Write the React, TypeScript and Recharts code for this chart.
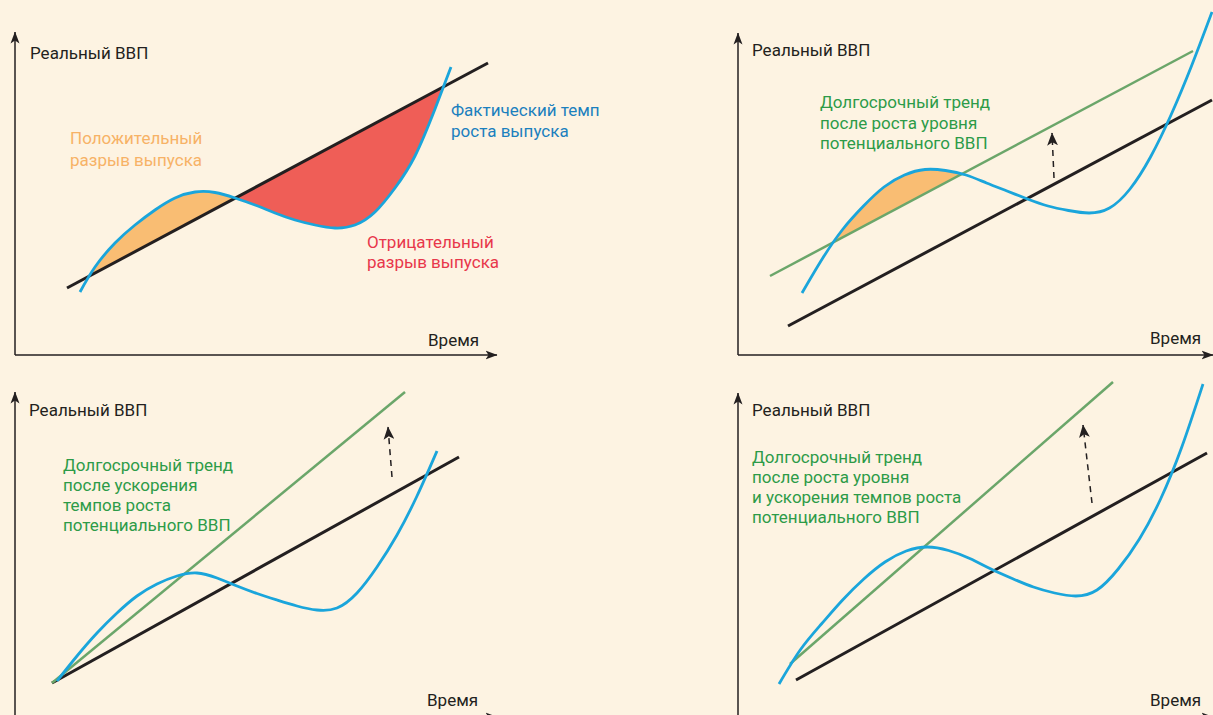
import React from 'react';
import { ComposedChart, Line, Area, XAxis, YAxis } from 'recharts';

// ---------- Colours ----------
const INK = '#231F20';
const BLUE = '#1AA5DB';
const GREEN = '#6BA66A';
const ORANGE = '#F9BD73';
const RED = '#EF5E57';
const ORANGE_TXT = '#F7B266';
const BLUE_TXT = '#1B80BE';
const RED_TXT = '#E8374B';
const GREEN_TXT = '#2D9B48';
const BG = '#FDF3E2';
const FONT = 'Roboto, "Noto Sans", sans-serif';
const CURVE = 'natural';

// ---------- Panel 1: output gap ----------
const p1TrendT = [52, 473];
const p1TrendV = [67, 292];
const p1ActualT = [65, 80, 100, 120, 140, 160, 180, 200, 220, 240, 260, 280, 300, 320, 340, 360, 380, 400, 420, 436];
const p1ActualV = [63, 88, 112, 130, 145, 157, 163, 162.5, 157, 150, 142, 135, 130, 127, 130, 143, 167, 199, 246, 288];
const p1PositiveGap = [75, 220];
const p1NegativeGap = [220, 428];
const p1AxisX = [0, 482];
const p1AxisY = [0, 323];

// ---------- Panel 2: level shift ----------
const p2OldTrendT = [50, 474];
const p2OldTrendV = [29, 255];
const p2NewTrendT = [32, 455];
const p2NewTrendV = [79, 304];
const p2ActualT = [64, 84.5, 105, 125.5, 146, 166.5, 187, 207.5, 228, 248.5, 269, 289.5, 310, 330.5, 351, 371.5, 392, 412.5, 433, 453.5, 474];
const p2ActualV = [62, 96.5, 126, 149, 168, 180, 185.5, 184.5, 180, 172, 164, 156, 149, 144.5, 142, 147, 166, 198, 240, 289, 343];
const p2PositiveGap = [95, 222];
const p2ShiftT = [316, 314];
const p2ShiftV = [177, 222];
const p2AxisX = [0, 475];
const p2AxisY = [0, 322];

// ---------- Panel 3: faster growth ----------
const p3OldTrendT = [37, 444];
const p3OldTrendV = [34, 260];
const p3NewTrendT = [37, 390];
const p3NewTrendV = [34, 325];
const p3ActualT = [42, 62, 82, 102, 122, 142, 162, 182, 202, 222, 242, 262, 282, 302, 322, 342, 362, 382, 402, 422];
const p3ActualV = [36, 61, 84, 104, 121, 133, 141, 144, 139, 131, 123.5, 117, 111, 107, 109, 124, 150, 182, 221, 266];
const p3ShiftT = [377, 373];
const p3ShiftV = [240, 290];
const p3AxisX = [0, 482];
const p3AxisY = [0, 325];

// ---------- Panel 4: level shift + faster growth ----------
const p4OldTrendT = [58, 469];
const p4OldTrendV = [37, 264];
const p4NewTrendT = [52, 375];
const p4NewTrendV = [53, 335];
const p4ActualT = [41, 62.2, 83.4, 104.6, 125.8, 147, 168.2, 189.4, 210.6, 231.8, 253, 274.2, 295.4, 316.6, 337.8, 359, 380.2, 401.4, 422.6, 443.8, 465];
const p4ActualV = [33, 67, 93, 117, 138, 155, 166, 170, 166.5, 158.5, 148, 138.5, 130, 124, 121, 127, 148, 178, 218, 270, 333];
const p4ShiftT = [354, 345];
const p4ShiftV = [214, 292];
const p4AxisX = [0, 475];
const p4AxisY = [0, 324];

// ---------- helpers to build the tables recharts needs ----------
type Row = { t: number; v: number };
const rows = (ts: number[], vs: number[]): Row[] => ts.map((t, i) => ({ t, v: vs[i] }));
const axisXRows = (a: number[]): Row[] => [{ t: a[0], v: 0 }, { t: a[1], v: 0 }];
const axisYRows = (a: number[]): Row[] => [{ t: 0, v: a[0] }, { t: 0, v: a[1] }];
const trendAt = (tt: number[], tv: number[], t: number) =>
  tv[0] + ((tv[1] - tv[0]) * (t - tt[0])) / (tt[1] - tt[0]);
const gapRows = (at: number[], av: number[], tt: number[], tv: number[]) =>
  at.map((t, i) => ({ t, gap: [trendAt(tt, tv, t), av[i]] as [number, number] }));

type Span = { from: number; to: number; color: string };
type Txt = { x: number; y: number; s: string; c: string };
type Box = { left: number; top: number; width: number; height: number; ox: number; oy: number };

const Panel: React.FC<{
  id: string;
  box: Box;
  gap?: { data: any[]; spans: Span[] };
  trends: { data: Row[]; color: string; width: number }[];
  actual: Row[];
  shift?: Row[];
  axisX: Row[];
  axisY: Row[];
  texts: Txt[];
}> = ({ id, box, gap, trends, actual, shift, axisX, axisY, texts }) => {
  const xDom: [number, number] = [box.left - box.ox, box.left + box.width - box.ox];
  const yDom: [number, number] = [box.oy - (box.top + box.height), box.oy - box.top];
  let stops: { off: number; color: string; op: number }[] = [];
  if (gap) {
    const t0 = gap.data[0].t;
    const t1 = gap.data[gap.data.length - 1].t;
    const f = (t: number) => Math.max(0, Math.min(1, (t - t0) / (t1 - t0)));
    stops.push({ off: 0, color: '#ffffff', op: 0 });
    gap.spans.forEach((s) => {
      stops.push({ off: f(s.from), color: s.color, op: 0 });
      stops.push({ off: f(s.from), color: s.color, op: 1 });
      stops.push({ off: f(s.to), color: s.color, op: 1 });
      stops.push({ off: f(s.to), color: s.color, op: 0 });
    });
    stops.push({ off: 1, color: '#ffffff', op: 0 });
  }
  return (
    <div style={{ position: 'absolute', left: box.left, top: box.top, width: box.width, height: box.height }}>
      <ComposedChart width={box.width} height={box.height} margin={{ top: 0, right: 0, bottom: 0, left: 0 }}>
        <defs>
          <marker id={`ax-${id}`} viewBox="0 0 12 10" refX="11.5" refY="5" markerWidth="12" markerHeight="10"
            markerUnits="userSpaceOnUse" orient="auto">
            <path d="M0,0.5 L12,5 L0,9.5 L3,5 Z" fill={INK} />
          </marker>
          <marker id={`sh-${id}`} viewBox="0 0 12 10" refX="11.5" refY="5" markerWidth="13" markerHeight="11"
            markerUnits="userSpaceOnUse" orient="auto">
            <path d="M0,0 L12,5 L0,10 L3,5 Z" fill={INK} />
          </marker>
          <linearGradient id={`gap-${id}`} x1="0" y1="0" x2="1" y2="0">
            {stops.map((s, i) => (
              <stop key={i} offset={s.off} stopColor={s.color} stopOpacity={s.op} />
            ))}
          </linearGradient>
        </defs>
        <XAxis type="number" dataKey="t" domain={xDom} hide allowDataOverflow />
        <YAxis type="number" domain={yDom} hide allowDataOverflow />
        {gap && (
          <Area data={gap.data} dataKey="gap" type={CURVE} stroke="none" fill={`url(#gap-${id})`}
            fillOpacity={1} isAnimationActive={false} activeDot={false} />
        )}
        <Line data={axisX} dataKey="v" type="linear" stroke={INK} strokeWidth={1.5} dot={false}
          activeDot={false} isAnimationActive={false} markerEnd={`url(#ax-${id})`} />
        <Line data={axisY} dataKey="v" type="linear" stroke={INK} strokeWidth={1.5} dot={false}
          activeDot={false} isAnimationActive={false} markerEnd={`url(#ax-${id})`} />
        {trends.map((tr, i) => (
          <Line key={`t${i}`} data={tr.data} dataKey="v" type="linear" stroke={tr.color} strokeWidth={tr.width}
            dot={false} activeDot={false} isAnimationActive={false} />
        ))}
        <Line data={actual} dataKey="v" type={CURVE} stroke={BLUE} strokeWidth={2.8} dot={false}
          activeDot={false} isAnimationActive={false} />
        {shift && (
          <Line data={shift} dataKey="v" type="linear" stroke={INK} strokeWidth={1.5} strokeDasharray="6 5"
            dot={false} activeDot={false} isAnimationActive={false} markerEnd={`url(#sh-${id})`} />
        )}
        {texts.map((t, i) => (
          <text key={`x${i}`} x={t.x - box.left} y={t.y - box.top} fill={t.c} fontSize={17}
            fontFamily={FONT} dominantBaseline="central">
            {t.s}
          </text>
        ))}
      </ComposedChart>
    </div>
  );
};

export default function App() {
  const b1: Box = { left: 0, top: 0, width: 700, height: 360, ox: 15, oy: 355 };
  const b2: Box = { left: 720, top: 0, width: 493, height: 360, ox: 738, oy: 355 };
  const b3: Box = { left: 0, top: 360, width: 700, height: 360, ox: 15, oy: 717 };
  const b4: Box = { left: 720, top: 360, width: 493, height: 360, ox: 738, oy: 717 };

  return (
    <div style={{ position: 'fixed', left: 0, top: 0, width: 1213, height: 715, overflow: 'hidden', background: BG }}>
      <Panel
        id="p1"
        box={b1}
        gap={{
          data: gapRows(p1ActualT, p1ActualV, p1TrendT, p1TrendV),
          spans: [
            { from: p1PositiveGap[0], to: p1PositiveGap[1], color: ORANGE },
            { from: p1NegativeGap[0], to: p1NegativeGap[1], color: RED },
          ],
        }}
        trends={[{ data: rows(p1TrendT, p1TrendV), color: INK, width: 3 }]}
        actual={rows(p1ActualT, p1ActualV)}
        axisX={axisXRows(p1AxisX)}
        axisY={axisYRows(p1AxisY)}
        texts={[
          { x: 30, y: 53, s: 'Реальный ВВП', c: INK },
          { x: 428, y: 340, s: 'Время', c: INK },
          { x: 70, y: 138, s: 'Положительный', c: ORANGE_TXT },
          { x: 70, y: 160, s: 'разрыв выпуска', c: ORANGE_TXT },
          { x: 451, y: 110, s: 'Фактический темп', c: BLUE_TXT },
          { x: 451, y: 131, s: 'роста выпуска', c: BLUE_TXT },
          { x: 367, y: 242, s: 'Отрицательный', c: RED_TXT },
          { x: 367, y: 262, s: 'разрыв выпуска', c: RED_TXT },
        ]}
      />
      <Panel
        id="p2"
        box={b2}
        gap={{
          data: gapRows(p2ActualT, p2ActualV, p2NewTrendT, p2NewTrendV),
          spans: [{ from: p2PositiveGap[0], to: p2PositiveGap[1], color: ORANGE }],
        }}
        trends={[
          { data: rows(p2NewTrendT, p2NewTrendV), color: GREEN, width: 2.5 },
          { data: rows(p2OldTrendT, p2OldTrendV), color: INK, width: 3 },
        ]}
        actual={rows(p2ActualT, p2ActualV)}
        shift={rows(p2ShiftT, p2ShiftV)}
        axisX={axisXRows(p2AxisX)}
        axisY={axisYRows(p2AxisY)}
        texts={[
          { x: 752, y: 50, s: 'Реальный ВВП', c: INK },
          { x: 1150, y: 338, s: 'Время', c: INK },
          { x: 820, y: 102, s: 'Долгосрочный тренд', c: GREEN_TXT },
          { x: 820, y: 123, s: 'после роста уровня', c: GREEN_TXT },
          { x: 820, y: 143, s: 'потенциального ВВП', c: GREEN_TXT },
        ]}
      />
      <Panel
        id="p3"
        box={b3}
        trends={[
          { data: rows(p3OldTrendT, p3OldTrendV), color: INK, width: 3 },
          { data: rows(p3NewTrendT, p3NewTrendV), color: GREEN, width: 2.5 },
        ]}
        actual={rows(p3ActualT, p3ActualV)}
        shift={rows(p3ShiftT, p3ShiftV)}
        axisX={axisXRows(p3AxisX)}
        axisY={axisYRows(p3AxisY)}
        texts={[
          { x: 29, y: 410, s: 'Реальный ВВП', c: INK },
          { x: 427, y: 700, s: 'Время', c: INK },
          { x: 63, y: 465, s: 'Долгосрочный тренд', c: GREEN_TXT },
          { x: 63, y: 485, s: 'после ускорения', c: GREEN_TXT },
          { x: 63, y: 505, s: 'темпов роста', c: GREEN_TXT },
          { x: 63, y: 525, s: 'потенциального ВВП', c: GREEN_TXT },
        ]}
      />
      <Panel
        id="p4"
        box={b4}
        trends={[
          { data: rows(p4OldTrendT, p4OldTrendV), color: INK, width: 3 },
          { data: rows(p4NewTrendT, p4NewTrendV), color: GREEN, width: 2.5 },
        ]}
        actual={rows(p4ActualT, p4ActualV)}
        shift={rows(p4ShiftT, p4ShiftV)}
        axisX={axisXRows(p4AxisX)}
        axisY={axisYRows(p4AxisY)}
        texts={[
          { x: 752, y: 410, s: 'Реальный ВВП', c: INK },
          { x: 1150, y: 700, s: 'Время', c: INK },
          { x: 752, y: 457, s: 'Долгосрочный тренд', c: GREEN_TXT },
          { x: 752, y: 477, s: 'после роста уровня', c: GREEN_TXT },
          { x: 752, y: 497, s: 'и ускорения темпов роста', c: GREEN_TXT },
          { x: 752, y: 517, s: 'потенциального ВВП', c: GREEN_TXT },
        ]}
      />
    </div>
  );
}
